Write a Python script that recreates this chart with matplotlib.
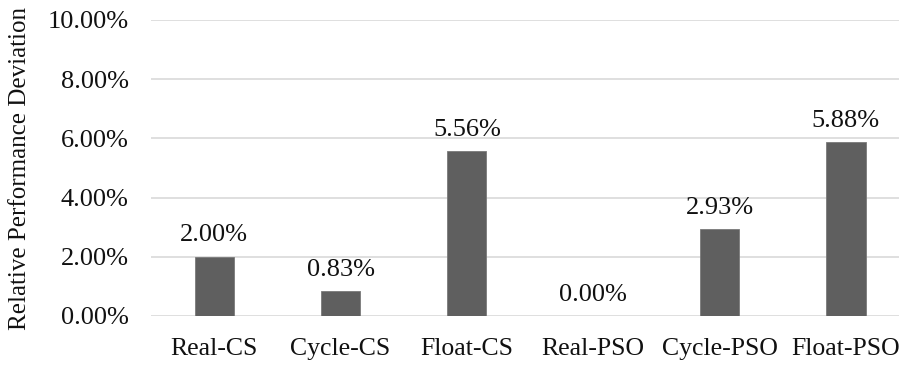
import numpy as np
import matplotlib.pyplot as plt
from matplotlib.ticker import FuncFormatter

# Data
methods = ['Real-CS', 'Cycle-CS', 'Float-CS', 'Real-PSO', 'Cycle-PSO', 'Float-PSO']
deviation = [2.00, 0.83, 5.56, 0.00, 2.93, 5.88]   # percent

plt.rcParams['font.family'] = ['Liberation Serif', 'DejaVu Serif']

fig = plt.figure(figsize=(8.99, 3.65), dpi=100)
ax = fig.add_axes([151 / 899, 49 / 365, (899 - 151) / 899, (316 - 20) / 365])

x = np.arange(len(methods))
bars = ax.bar(x, deviation, width=0.31, color='#5f5f5f', edgecolor='#7a7a7a',
              linewidth=0.6, zorder=3)

for xi, v in zip(x, deviation):
    ax.text(xi, v + 0.35, '%.2f%%' % v, ha='center', va='bottom',
            fontsize=19, color='#111111')

ax.set_ylim(0, 10)
ax.set_xlim(-0.5, 5.42)
ax.set_yticks(np.arange(0, 10.01, 2))
ax.yaxis.set_major_formatter(FuncFormatter(lambda v, p: '%.2f%%' % v))
ax.set_xticks(x)
ax.set_xticklabels(methods)
ax.tick_params(axis='y', length=0, labelsize=19, colors='#111111', pad=16)
ax.tick_params(axis='x', length=0, labelsize=18.5, colors='#111111', pad=16)

ax.grid(axis='y', color='#d9d9d9', linewidth=1.2, zorder=0)
for s in ax.spines.values():
    s.set_visible(False)

ax.set_ylabel('Relative Performance Deviation', fontsize=18, color='#111111', labelpad=12)

fig.savefig('out.png', dpi=100)
